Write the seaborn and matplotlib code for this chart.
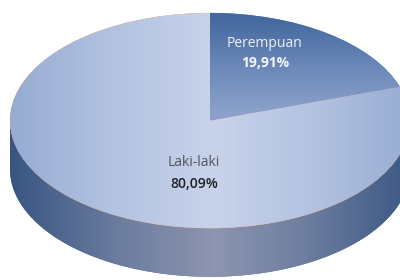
import numpy as np
import matplotlib
matplotlib.use("Agg")
import matplotlib.pyplot as plt
import seaborn as sns
from matplotlib.patches import Polygon

# Data
labels = ["Perempuan", "Laki-laki"]
shares = [19.91, 80.09]

sns.set_style("white")
plt.rcParams["font.family"] = ["Open Sans", "DejaVu Sans"]

fig = plt.figure(figsize=(4, 2.8), dpi=100)
ax = fig.add_axes([0, 0, 1, 1])

# Pie top face (squashed later through the axes limits)
wedges, _ = ax.pie(shares, startangle=90, counterclock=False, radius=1,
                   center=(0, 0), wedgeprops=dict(linewidth=0))

xlim = (-1.05, 0.95)
ylim = (-1.48, 1.12)
ax.set_aspect("auto")
ax.set_xlim(*xlim)
ax.set_ylim(*ylim)
ax.axis("off")

depth = 0.45

# Side wall (front half of the cylinder)
t = np.linspace(np.pi, 2 * np.pi, 300)
rim = np.column_stack([np.cos(t), np.sin(t)])
side = Polygon(np.vstack([rim, rim[::-1] - [0, depth]]), closed=True,
               fc="#5a6d94", ec="none", zorder=1)
ax.add_patch(side)

# Gradient fills
X, Y = np.meshgrid(np.linspace(*xlim, 400), np.linspace(ylim[1], ylim[0], 280))
extent = (xlim[0], xlim[1], ylim[0], ylim[1])


def ramp(colors, tv):
    pal = np.array(sns.blend_palette(colors, 256))
    return pal[np.clip((tv * 255).astype(int), 0, 255)]


side_img = ramp(["#8e96b1", "#6d7d9f", "#3a5784"], np.abs(X - 0.02) ** 0.9)
im = ax.imshow(side_img, extent=extent, aspect="auto", zorder=2)
im.set_clip_path(side)

laki_img = ramp(["#c8d3ea", "#b3c2e1", "#97acd3"], np.clip(np.abs(X - 0.02), 0, 1))
per_img = ramp(["#45699f", "#6a87b8", "#8ba2cb"], np.clip((0.95 - Y) * 1.15, 0, 1))
for w, img in zip(wedges, [per_img, laki_img]):
    w.set_zorder(3)
    im = ax.imshow(img, extent=extent, aspect="auto", zorder=4)
    im.set_clip_path(w)

# Labels
pct = [f"{v:.2f}".replace(".", ",") + "%" for v in shares]
ax.text(0.275, 0.72, labels[0], ha="center", va="center", fontsize=10,
        color="#eef2f9", zorder=5)
ax.text(0.275, 0.535, pct[0], ha="center", va="center", fontsize=10,
        fontweight="bold", color="#f4f7fc", zorder=5)
ax.text(-0.08, -0.39, labels[1], ha="center", va="center", fontsize=10,
        color="#50555f", zorder=5)
ax.text(-0.08, -0.59, pct[1], ha="center", va="center", fontsize=10,
        fontweight="semibold", color="#1e2126", zorder=5)

fig.savefig("out.png", dpi=100)
